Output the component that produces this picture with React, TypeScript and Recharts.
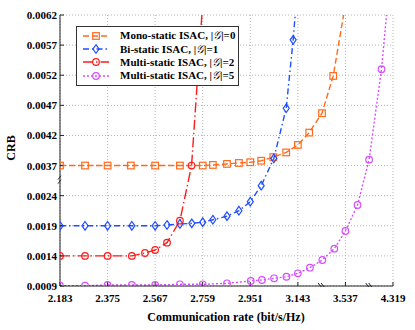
import {
  LineChart,
  Line,
  XAxis,
  YAxis,
  CartesianGrid,
  Legend,
  ReferenceDot,
} from "recharts";

// axis ticks (both axes are broken, ticks sit at equal spacing)
const rateTicks = [2.183, 2.375, 2.567, 2.759, 2.951, 3.143, 3.537, 4.319];
const crbTicks = [0.0009, 0.0014, 0.0019, 0.0024, 0.0037, 0.0042, 0.0047, 0.0052, 0.0057, 0.0062];

// Mono-static ISAC, |G|=0
const monoRate = [2.183, 2.284, 2.375, 2.469, 2.567, 2.667, 2.759, 2.8, 2.857, 2.905, 2.951, 2.995, 3.044, 3.096, 3.143, 3.237, 3.343, 3.436, 3.609];
const monoCrb = [0.0037, 0.0037, 0.0037, 0.0037, 0.0037, 0.0037, 0.0037, 0.00371, 0.003727, 0.003743, 0.003755, 0.00378, 0.00384, 0.003918, 0.004042, 0.004247, 0.004569, 0.005188, 0.00681];

// Bi-static ISAC, |G|=1
const biRate = [2.183, 2.284, 2.375, 2.473, 2.567, 2.615, 2.667, 2.715, 2.759, 2.8, 2.857, 2.905, 2.951, 2.995, 3.046, 3.096, 3.124, 3.163];
const biCrb = [0.0019, 0.0019, 0.0019, 0.0019, 0.0019, 0.001913, 0.00193, 0.00194, 0.00196, 0.002, 0.00206, 0.00215, 0.0023, 0.00283, 0.003818, 0.004652, 0.005787, 0.00724];

// Multi-static ISAC, |G|=2
const multi2Rate = [2.183, 2.284, 2.375, 2.473, 2.526, 2.567, 2.615, 2.667, 2.714, 2.768];
const multi2Crb = [0.0014, 0.0014, 0.0014, 0.0014, 0.001448, 0.001498, 0.00162, 0.001985, 0.0037, 0.00695];

// Multi-static ISAC, |G|=5
const multi5Rate = [2.183, 2.284, 2.375, 2.473, 2.567, 2.667, 2.759, 2.857, 2.953, 2.998, 3.047, 3.097, 3.143, 3.243, 3.346, 3.445, 3.537, 3.736, 3.926, 4.13, 4.319];
const multi5Crb = [0.000905, 0.000905, 0.000917, 0.000917, 0.000917, 0.000928, 0.000928, 0.000945, 0.000983, 0.001, 0.001028, 0.001054, 0.001111, 0.001204, 0.001332, 0.00152, 0.001813, 0.002245, 0.003798, 0.0053, 0.00737];

const FONT = '"Liberation Serif", "Times New Roman", serif';

// map a real value onto the broken axis (tick index space)
function brk(v: number, ticks: number[]) {
  const n = ticks.length;
  let i = 0;
  while (i < n - 2 && v > ticks[i + 1]) i++;
  return i + (v - ticks[i]) / (ticks[i + 1] - ticks[i]);
}

function toPoints(xs: number[], ys: number[]) {
  return xs.map((x, i) => ({ x: brk(x, rateTicks), y: brk(ys[i], crbTicks) }));
}

const series = [
  { name: "Mono-static ISAC, ", g: "0", color: "#ff6a1c", dash: "6 3", marker: "square", data: toPoints(monoRate, monoCrb) },
  { name: "Bi-static ISAC, ", g: "1", color: "#1f4dff", dash: "6 3 1.5 3", marker: "diamond", data: toPoints(biRate, biCrb) },
  { name: "Multi-static ISAC, ", g: "2", color: "#ff1a1a", dash: "10 3 1.5 3", marker: "circle", data: toPoints(multi2Rate, multi2Crb) },
  { name: "Multi-static ISAC, ", g: "5", color: "#d64dff", dash: "2 2", marker: "circle", data: toPoints(multi5Rate, multi5Crb) },
];

function Marker({ type, cx, cy, color }: { type: string; cx: number; cy: number; color: string }) {
  if (type === "square")
    return <rect x={cx - 3.3} y={cy - 3.3} width={6.6} height={6.6} fill="none" stroke={color} strokeWidth={1.2} />;
  if (type === "diamond")
    return (
      <polygon
        points={`${cx},${cy - 4.3} ${cx + 3},${cy} ${cx},${cy + 4.3} ${cx - 3},${cy}`}
        fill="none"
        stroke={color}
        strokeWidth={1.2}
      />
    );
  return <circle cx={cx} cy={cy} r={3.3} fill="none" stroke={color} strokeWidth={1.2} />;
}

function makeDot(s: (typeof series)[number]) {
  return (p: any) => {
    if (p.payload.y > 9) return <g key={p.index} />;
    return <Marker key={p.index} type={s.marker} cx={p.cx} cy={p.cy} color={s.color} />;
  };
}

function LegendBox() {
  return (
    <div
      style={{
        border: "1px solid #333",
        background: "#fff",
        padding: "2px 6px",
        width: 149,
        fontFamily: FONT,
        fontWeight: "bold",
        fontSize: 11,
        color: "#000",
      }}
    >
      {series.map((s, i) => (
        <div key={i} style={{ display: "flex", alignItems: "center", height: 13.4 }}>
          <svg width={26} height={12} style={{ marginRight: 11, flex: "none" }}>
            <line x1={0} y1={6} x2={26} y2={6} stroke={s.color} strokeWidth={1.4} strokeDasharray={s.dash} />
            <Marker type={s.marker} cx={13} cy={6} color={s.color} />
          </svg>
          <span style={{ whiteSpace: "nowrap" }}>
            {s.name}|<span style={{ fontWeight: "normal", fontStyle: "italic" }}>𝒢</span>|={s.g}
          </span>
        </div>
      ))}
    </div>
  );
}

const slash = (p: any) => (
  <g stroke="#222" strokeWidth={1}>
    <line x1={p.cx - 3.5} y1={p.cy - 3} x2={p.cx - 0.5} y2={p.cy + 1} />
    <line x1={p.cx - 0.5} y1={p.cy - 3} x2={p.cx + 2.5} y2={p.cy + 1} />
  </g>
);

const slashY = (p: any) => (
  <g stroke="#222" strokeWidth={1}>
    <line x1={p.cx - 2} y1={p.cy - 1} x2={p.cx + 1} y2={p.cy - 5} />
    <line x1={p.cx - 2} y1={p.cy + 3} x2={p.cx + 1} y2={p.cy - 1} />
  </g>
);

function XTick(p: any) {
  return (
    <text x={p.x} y={p.y + 8} textAnchor="middle" fontFamily={FONT} fontWeight="bold" fontSize={11} fill="#000">
      {rateTicks[p.payload.value]?.toFixed(3)}
    </text>
  );
}

function YTick(p: any) {
  return (
    <text x={p.x} y={p.y + 4} textAnchor="end" fontFamily={FONT} fontWeight="bold" fontSize={11} fill="#000">
      {crbTicks[p.payload.value]?.toFixed(4)}
    </text>
  );
}

export default function App() {
  return (
    <div style={{ position: "absolute", left: 0, top: 0, width: 415, height: 330, background: "#fff", fontFamily: FONT }}>
      <LineChart width={415} height={330} margin={{ top: 15, right: 22, bottom: 14, left: 0 }}>
        <CartesianGrid stroke="#b5b5b5" strokeDasharray="1 2" />
        <XAxis
          type="number"
          dataKey="x"
          domain={[0, 7]}
          ticks={rateTicks.map((_, i) => i)}
          allowDataOverflow
          height={30}
          tickSize={-4}
          tickMargin={12}
          stroke="#222"
          tick={XTick}
        />
        <XAxis
          xAxisId="top"
          orientation="top"
          type="number"
          dataKey="x"
          domain={[0, 7]}
          ticks={rateTicks.map((_, i) => i)}
          tickFormatter={() => ""}
          height={0}
          tickSize={-4}
          stroke="#222"
        />
        <YAxis
          type="number"
          domain={[0, 9]}
          ticks={crbTicks.map((_, i) => i)}
          allowDataOverflow
          width={60}
          tickSize={-4}
          tickMargin={7}
          stroke="#222"
          tick={YTick}
        />
        <YAxis
          yAxisId="right"
          orientation="right"
          type="number"
          domain={[0, 9]}
          ticks={crbTicks.map((_, i) => i)}
          tickFormatter={() => ""}
          width={0}
          tickSize={-4}
          stroke="#222"
        />
        {series.map((s, i) => (
          <Line
            key={i}
            data={s.data}
            dataKey="y"
            name={s.name + s.g}
            stroke={s.color}
            strokeWidth={1.4}
            strokeDasharray={s.dash}
            dot={makeDot(s)}
            activeDot={false}
            isAnimationActive={false}
          />
        ))}
        <ReferenceDot x={5.5} y={0} r={0} shape={slash} ifOverflow="visible" />
        <ReferenceDot x={6.5} y={0} r={0} shape={slash} ifOverflow="visible" />
        <ReferenceDot x={0} y={3.5} r={0} shape={slashY} ifOverflow="visible" />
        <Legend
          layout="horizontal"
          verticalAlign="middle"
          align="center"
          content={() => <LegendBox />}
          wrapperStyle={{ left: 76, top: 26, width: "auto" }}
        />
        <text x={226} y={321} textAnchor="middle" fontFamily={FONT} fontWeight="bold" fontSize={12} fill="#000">
          Communication rate (bit/s/Hz)
        </text>
        <text
          x={15}
          y={148}
          textAnchor="middle"
          transform="rotate(-90 15 148)"
          fontFamily={FONT}
          fontWeight="bold"
          fontSize={12}
          fill="#000"
        >
          CRB
        </text>
      </LineChart>
    </div>
  );
}
